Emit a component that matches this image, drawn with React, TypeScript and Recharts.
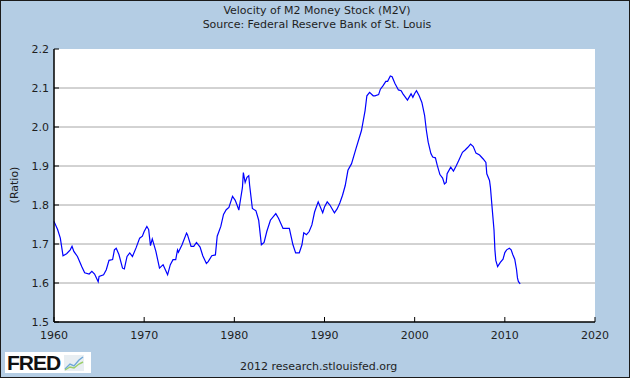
import { LineChart, Line, XAxis, YAxis, CartesianGrid } from 'recharts'

// M2 velocity (approx. quarterly)
const years = [
  1960.0, 1960.4, 1960.7, 1961.0, 1961.4, 1961.8, 1962.0, 1962.2, 1962.6, 1963.1,
  1963.4, 1963.9, 1964.2, 1964.5, 1964.9, 1965.0, 1965.5, 1965.8, 1966.1, 1966.5,
  1966.7, 1966.9, 1967.2, 1967.6, 1967.8, 1968.1, 1968.4, 1968.7, 1969.1, 1969.5,
  1969.8, 1970.0, 1970.3, 1970.5, 1970.7, 1970.9, 1971.3, 1971.7, 1972.1, 1972.6,
  1972.9, 1973.2, 1973.5, 1973.7, 1973.8, 1974.2, 1974.7, 1974.8, 1975.2, 1975.5,
  1975.8, 1976.2, 1976.5, 1976.9, 1977.1, 1977.5, 1977.9, 1978.1, 1978.5, 1978.8,
  1979.1, 1979.4, 1979.8, 1980.1, 1980.3, 1980.5, 1980.7, 1980.9, 1981.0, 1981.2,
  1981.4, 1981.6, 1981.7, 1982.0, 1982.4, 1982.7, 1982.9, 1983.0, 1983.3, 1983.6,
  1984.0, 1984.6, 1984.9, 1985.4, 1986.1, 1986.5, 1986.8, 1987.2, 1987.5, 1987.7,
  1988.0, 1988.3, 1988.6, 1988.9, 1989.3, 1989.8, 1990.0, 1990.3, 1990.6, 1990.9,
  1991.1, 1991.4, 1991.7, 1992.0, 1992.3, 1992.6, 1993.0, 1993.5, 1994.1, 1994.5,
  1994.7, 1995.0, 1995.4, 1995.6, 1996.0, 1996.2, 1996.5, 1996.8, 1997.0, 1997.3,
  1997.5, 1997.8, 1998.2, 1998.5, 1998.7, 1999.2, 1999.6, 1999.8, 2000.0, 2000.2,
  2000.5, 2000.8, 2001.1, 2001.3, 2001.5, 2001.8, 2002.0, 2002.3, 2002.5, 2002.8,
  2003.1, 2003.3, 2003.5, 2003.6, 2004.0, 2004.3, 2004.6, 2004.9, 2005.3, 2005.6,
  2005.9, 2006.2, 2006.5, 2006.8, 2007.2, 2007.6, 2007.9, 2008.0, 2008.3, 2008.4,
  2008.6, 2008.8, 2008.9, 2009.0, 2009.2, 2009.5, 2009.8, 2010.0, 2010.2, 2010.5,
  2010.7, 2010.9, 2011.1, 2011.3, 2011.4, 2011.5, 2011.7,
]

const velocity = [
  1.758, 1.737, 1.715, 1.670, 1.675, 1.685, 1.694, 1.681, 1.668, 1.641,
  1.626, 1.623, 1.630, 1.623, 1.603, 1.617, 1.621, 1.634, 1.658, 1.660,
  1.685, 1.689, 1.673, 1.638, 1.636, 1.668, 1.677, 1.668, 1.690, 1.715,
  1.720, 1.732, 1.745, 1.737, 1.696, 1.713, 1.681, 1.638, 1.647, 1.621,
  1.647, 1.660, 1.660, 1.685, 1.679, 1.698, 1.728, 1.724, 1.694, 1.694,
  1.704, 1.692, 1.670, 1.650, 1.655, 1.670, 1.672, 1.720, 1.745, 1.776,
  1.788, 1.794, 1.822, 1.812, 1.800, 1.787, 1.816, 1.845, 1.883, 1.858,
  1.871, 1.875, 1.850, 1.791, 1.785, 1.761, 1.719, 1.698, 1.704, 1.732,
  1.761, 1.778, 1.766, 1.740, 1.740, 1.698, 1.677, 1.677, 1.698, 1.729,
  1.724, 1.732, 1.749, 1.782, 1.808, 1.780, 1.795, 1.808, 1.800, 1.788,
  1.780, 1.790, 1.805, 1.825, 1.850, 1.889, 1.906, 1.945, 1.991, 2.042,
  2.080, 2.089, 2.080, 2.080, 2.083, 2.097, 2.106, 2.117, 2.117, 2.131,
  2.129, 2.112, 2.095, 2.093, 2.085, 2.069, 2.085, 2.076, 2.086, 2.093,
  2.080, 2.063, 2.030, 1.991, 1.961, 1.932, 1.923, 1.921, 1.902, 1.878,
  1.869, 1.854, 1.858, 1.880, 1.897, 1.887, 1.900, 1.915, 1.935, 1.941,
  1.948, 1.956, 1.950, 1.933, 1.928, 1.918, 1.909, 1.880, 1.863, 1.846,
  1.790, 1.736, 1.685, 1.658, 1.642, 1.653, 1.661, 1.678, 1.685, 1.689,
  1.685, 1.672, 1.661, 1.634, 1.613, 1.604, 1.598,
]

const xTicks = [1960, 1970, 1980, 1990, 2000, 2010, 2020]
const yTicks = [1.5, 1.6, 1.7, 1.8, 1.9, 2.0, 2.1, 2.2]
const gridValues = [1.6, 1.7, 1.8, 1.9, 2.0, 2.1]

const data = years.map((year, i) => ({ year, m2v: velocity[i] }))

const font = '"DejaVu Sans", Verdana, sans-serif'
const txt = '#1e1e1e'

export default function App() {
  return (
    <div
      style={{
        position: 'absolute',
        left: 0,
        top: 0,
        width: 630,
        height: 378,
        background: '#B4CDE4',
        fontFamily: font,
        color: txt,
      }}
    >
      <div style={{ position: 'absolute', left: 0, width: 634, top: 4, textAlign: 'center', fontSize: 11, lineHeight: '14px' }}>
        <div>Velocity of M2 Money Stock (M2V)</div>
        <div>Source: Federal Reserve Bank of St. Louis</div>
      </div>

      <LineChart
        width={630}
        height={378}
        data={data}
        margin={{ top: 49, right: 35, bottom: 26, left: 0 }}
        style={{ position: 'absolute', left: 0, top: 0 }}
      >
        <CartesianGrid
          fill="#fff"
          fillOpacity={1}
          stroke="#a6a6a6"
          vertical={false}
          horizontalValues={gridValues}
        />
        <XAxis
          dataKey="year"
          type="number"
          domain={[1960, 2020]}
          ticks={xTicks}
          height={30}
          tickSize={-5}
          tickMargin={14}
          axisLine={{ stroke: '#000', strokeWidth: 1.5 }}
          tickLine={{ stroke: '#000' }}
          tick={{ fill: txt, fontSize: 11, fontFamily: font }}
        />
        <YAxis
          type="number"
          domain={[1.5, 2.2]}
          ticks={yTicks}
          width={54}
          tickSize={-5}
          tickMargin={10}
          tickFormatter={(v: number) => v.toFixed(1)}
          axisLine={{ stroke: '#000', strokeWidth: 1.5 }}
          tickLine={{ stroke: '#000' }}
          tick={{ fill: txt, fontSize: 11, fontFamily: font }}
        />
        <Line
          type="linear"
          dataKey="m2v"
          stroke="#0000ff"
          strokeWidth={1.2}
          dot={false}
          isAnimationActive={false}
        />
      </LineChart>

      <div
        style={{
          position: 'absolute',
          left: 14,
          top: 185,
          fontSize: 11,
          transform: 'translate(-50%, -50%) rotate(-90deg)',
          whiteSpace: 'nowrap',
        }}
      >
        (Ratio)
      </div>

      <div
        style={{
          position: 'absolute',
          left: 5,
          top: 352,
          width: 86,
          height: 21,
          background: '#fff',
          display: 'flex',
          alignItems: 'center',
        }}
      >
        <span
          style={{
            fontFamily: '"Liberation Sans", Arial, sans-serif',
            fontWeight: 900,
            fontSize: 21,
            letterSpacing: -1,
            color: '#111',
            marginLeft: 2,
            lineHeight: '21px',
          }}
        >
          FRED
        </span>
        <svg width={20} height={16} style={{ marginLeft: 4 }}>
          <rect x={0} y={0} width={20} height={16} fill="#e8eef2" />
          <polyline points="1,14 6,9 10,11 15,5 19,2" fill="none" stroke="#6fa8d8" strokeWidth={1.4} />
          <polyline points="1,15 6,12 10,13 15,9 19,7" fill="none" stroke="#9ccf6a" strokeWidth={1.4} />
        </svg>
      </div>

      <div style={{ position: 'absolute', left: 240, top: 360, fontSize: 11, whiteSpace: 'nowrap' }}>
        2012 research.stlouisfed.org
      </div>

      <div
        style={{
          position: 'absolute',
          left: 0,
          top: 0,
          width: 630,
          height: 378,
          boxSizing: 'border-box',
          border: '1px solid #1a1a1a',
          pointerEvents: 'none',
        }}
      />
    </div>
  )
}
